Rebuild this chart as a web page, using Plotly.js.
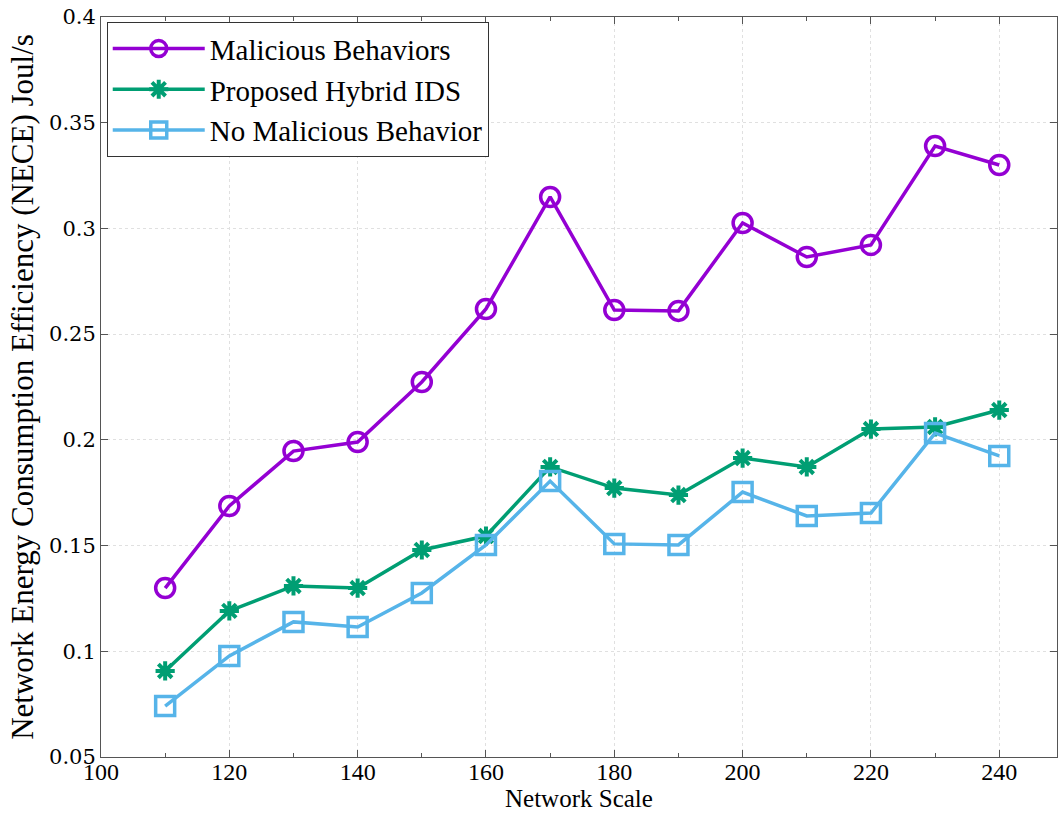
<!DOCTYPE html>
<html>
<head>
<meta charset="utf-8">
<script src="https://cdn.plot.ly/plotly-3.0.1.min.js"></script>
<style>html,body{margin:0;padding:0;background:#fff;}#chart{width:1058px;height:813px;}</style>
</head>
<body>
<div id="chart"></div>
<script>
const networkScale = [110, 120, 130, 140, 150, 160, 170, 180, 190, 200, 210, 220, 230, 240];
const maliciousBehaviors = [0.1299, 0.1687, 0.1947, 0.1990, 0.2274, 0.2619, 0.3149, 0.2614, 0.2610, 0.3026, 0.2865, 0.2922, 0.3390, 0.3300];
const proposedHybridIDS = [0.0907, 0.1191, 0.1309, 0.1299, 0.1479, 0.1545, 0.1872, 0.1772, 0.1739, 0.1914, 0.1872, 0.2051, 0.2061, 0.2141];
const noMaliciousBehavior = [0.0741, 0.0978, 0.1139, 0.1115, 0.1276, 0.1503, 0.1805, 0.1508, 0.1503, 0.1753, 0.1640, 0.1654, 0.2032, 0.1924];
const seriesNames = ['Malicious Behaviors', 'Proposed Hybrid IDS', 'No Malicious Behavior'];
const xTitle = 'Network Scale';
const yTitle = 'Network Energy Consumption Efficiency (NECE) Joul/s';

const SERIF = '"Liberation Serif", "Times New Roman", serif';

const traces = [
  {x: networkScale, y: maliciousBehaviors, name: seriesNames[0], mode: 'lines+markers', type: 'scatter',
   line: {color: '#9400D3', width: 3.5},
   marker: {symbol: 'circle-open', size: 19, color: '#9400D3', line: {width: 3.5, color: '#9400D3'}}},
  {x: networkScale, y: proposedHybridIDS, name: seriesNames[1], mode: 'lines+markers', type: 'scatter',
   line: {color: '#009E73', width: 3.5},
   marker: {symbol: 'asterisk-open', size: 16, color: '#009E73', line: {width: 4, color: '#009E73'}}},
  {x: networkScale, y: noMaliciousBehavior, name: seriesNames[2], mode: 'lines+markers', type: 'scatter',
   line: {color: '#56B4E9', width: 3.5},
   marker: {symbol: 'square-open', size: 19, color: '#56B4E9', line: {width: 3.5, color: '#56B4E9'}}}
];

const layout = {
  width: 1058, height: 813,
  margin: {l: 101, r: 1, t: 17, b: 56},
  paper_bgcolor: '#fff', plot_bgcolor: '#fff',
  showlegend: true,
  legend: {x: 0.006, y: 0.993, xanchor: 'left', yanchor: 'top',
           bordercolor: '#333', borderwidth: 1, bgcolor: '#fff',
           font: {family: SERIF, size: 29, color: '#000'},
           tracegroupgap: 0, itemwidth: 92},
  xaxis: {
    range: [100, 249.0], dtick: 20, tick0: 100,
    showline: true, linecolor: '#555', linewidth: 1, mirror: 'allticks',
    ticks: 'inside', ticklen: 7, tickcolor: '#555',
    showgrid: true, gridcolor: '#e0e0e0', griddash: 'dot',
    zeroline: false,
    minor: {dtick: 10, tick0: 100, ticks: 'inside', ticklen: 4, tickcolor: '#555', showgrid: false},
    tickfont: {family: SERIF, size: 24, color: '#000'},
    ticklabelstandoff: -7,
    automargin: false
  },
  yaxis: {
    range: [0.05, 0.4], dtick: 0.05, tick0: 0.05,
    showline: true, linecolor: '#555', linewidth: 1, mirror: 'allticks',
    ticks: 'inside', ticklen: 7, tickcolor: '#555',
    showgrid: true, gridcolor: '#e0e0e0', griddash: 'dot',
    zeroline: false,
    tickfont: {family: '"DejaVu Serif", serif', size: 21, color: '#000'},
    title: {text: yTitle, font: {family: SERIF, size: 31, color: '#000'}, standoff: 6}
  },
  annotations: [
    {text: xTitle, xref: 'paper', yref: 'paper', x: 0.5, y: -0.0757, xanchor: 'center', yanchor: 'bottom',
     showarrow: false, borderpad: 0, font: {family: SERIF, size: 25, color: '#000'}}
  ]
};

Plotly.newPlot('chart', traces, layout, {displayModeBar: false, staticPlot: true});
</script>
</body>
</html>
